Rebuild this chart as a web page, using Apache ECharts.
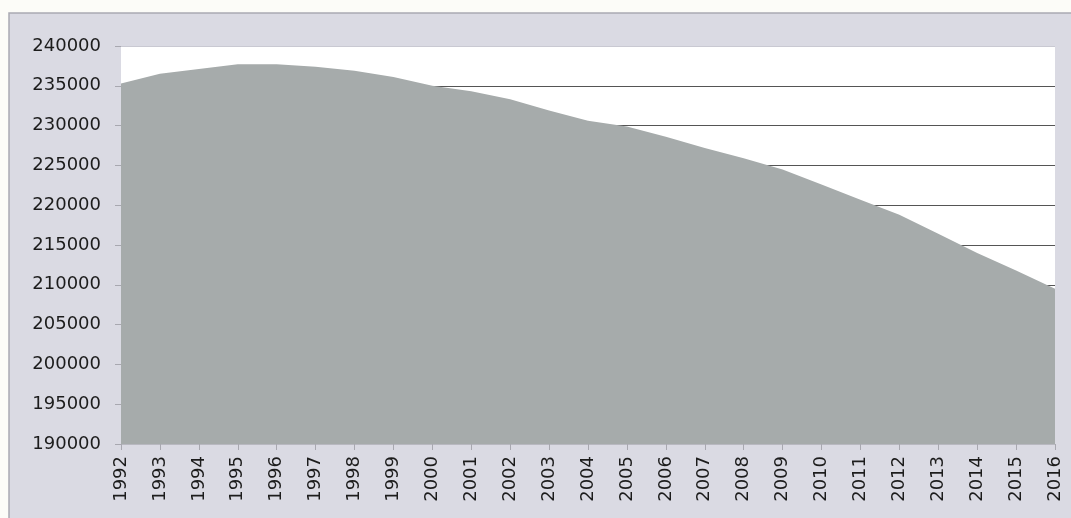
<!DOCTYPE html>
<html>
<head>
<meta charset="utf-8">
<script src="https://cdn.jsdelivr.net/npm/echarts@6/dist/echarts.min.js"></script>
<style>
html,body{margin:0;padding:0;background:#fcfcf8;}
#chart{width:1071px;height:518px;}
</style>
</head>
<body>
<div id="chart"></div>
<script>
const years = ['1992','1993','1994','1995','1996','1997','1998','1999','2000','2001','2002','2003','2004','2005','2006','2007','2008','2009','2010','2011','2012','2013','2014','2015','2016'];
const values = [235300,236500,237100,237700,237700,237400,236900,236100,235000,234300,233300,231900,230600,229900,228600,227200,225900,224500,222600,220700,218800,216400,214000,211800,209500];
const yMin = 190000, yMax = 240000, yStep = 5000;

const chart = echarts.init(document.getElementById('chart'), null, {renderer:'canvas'});
const splitColors = ['#9a9aa0','#555','#555','#555','#555','#555','#555','#555','#555','#555','#c9c9d2'];
chart.setOption({
  animation:false,
  backgroundColor:'#fcfcf8',
  graphic:[{
    type:'rect', z:-10, silent:true,
    shape:{x:9,y:13,width:1100,height:520},
    style:{fill:'#dadae3',stroke:'#a9a9b2',lineWidth:1.5}
  }],
  grid:{left:121,right:16,top:46,bottom:74,show:true,backgroundColor:'#ffffff',borderWidth:0},
  xAxis:{
    type:'category', data:years, boundaryGap:false,
    axisLine:{show:true,lineStyle:{color:'#b8b8c0'}},
    axisTick:{show:true,alignWithLabel:true,length:6,lineStyle:{color:'#a8a8b0'}},
    axisLabel:{rotate:90,margin:12,interval:0,color:'#1c1c1c',fontFamily:'DejaVu Sans',fontSize:18},
    splitLine:{show:false}
  },
  yAxis:{
    type:'value', min:yMin, max:yMax, interval:yStep,
    axisLine:{show:false},
    axisTick:{show:true,length:6,lineStyle:{color:'#a8a8b0'}},
    axisLabel:{margin:20,color:'#1c1c1c',fontFamily:'DejaVu Sans',fontSize:18,formatter:function(v){return String(v);}},
    splitLine:{show:true,lineStyle:{color:splitColors,width:1}}
  },
  series:[{
    type:'line', data:values, smooth:false, symbol:'none',
    lineStyle:{width:0,color:'#a6abab'},
    areaStyle:{color:'#a6abab',opacity:1}
  }]
});
</script>
</body>
</html>
